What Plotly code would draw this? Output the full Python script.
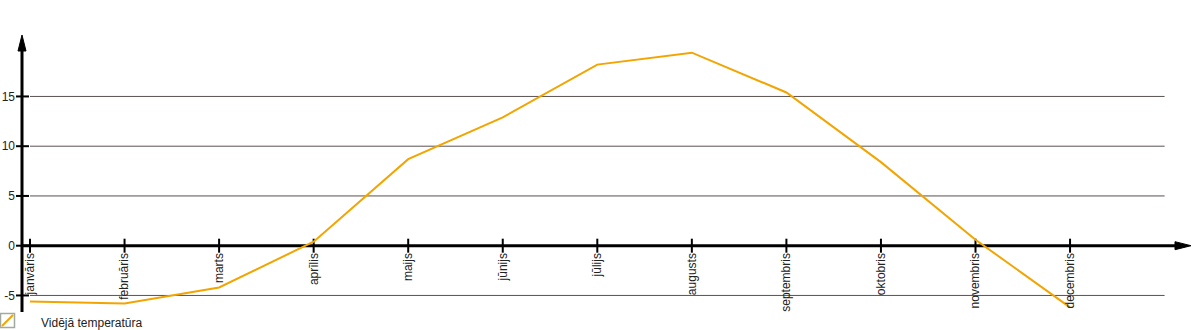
import plotly.graph_objects as go

# ---- data ----
months = ["janvāris", "februāris", "marts", "aprīlis", "maijs", "jūnijs",
          "jūlijs", "augusts", "septembris", "oktobris", "novembris", "decembris"]
temps = [-5.6, -5.8, -4.2, 0.4, 8.7, 12.9, 18.2, 19.4, 15.4, 8.4, 0.6, -6.2]
y_ticks = [-5, 0, 5, 10, 15]
y_tick_text = ["-5", "0", "5", "10", "15"]
grid_vals = [-5, 5, 10, 15]
series_name = "Vidējā temperatūra"

# ---- geometry / style ----
W, H = 1200, 330
ML = 16
X0PX, DX = 30.0, 94.55         # pixel of first month, spacing
Y0PX, DY = 245.7, 9.95         # pixel of value 0, px per unit
x_range = [(ML - X0PX) / DX, (W - X0PX) / DX]
y_range = [(Y0PX - H) / DY, Y0PX / DY]
yaxis_x = (22 - X0PX) / DX
xaxis_end = (1176 - X0PX) / DX
xaxis_tip = (1191 - X0PX) / DX
yaxis_bottom = (Y0PX - 312) / DY
yaxis_top = (Y0PX - 50) / DY
yaxis_tip = (Y0PX - 35) / DY

LINE_COLOR = "#F2A500"
GRID_COLOR = "#5a5050"
FONT = dict(family="Liberation Sans, Arial, sans-serif", size=12, color="#222222")

fig = go.Figure()

# tick marks crossing the axes
fig.add_trace(go.Scatter(
    x=[yaxis_x] * len(y_ticks), y=y_ticks, mode="markers",
    marker=dict(symbol="line-ew", size=10, line=dict(width=2, color="black")),
    hoverinfo="skip", showlegend=False))
fig.add_trace(go.Scatter(
    x=list(range(len(months))), y=[0] * len(months), mode="markers",
    marker=dict(symbol="line-ns", size=10, line=dict(width=2, color="black")),
    hoverinfo="skip", showlegend=False))

# data line
fig.add_trace(go.Scatter(
    x=list(range(len(months))), y=temps, mode="lines", name=series_name,
    line=dict(color=LINE_COLOR, width=2), showlegend=False))

shapes = []
for v in grid_vals:
    shapes.append(dict(type="line", xref="x", yref="y", x0=0, x1=len(months),
                       y0=v, y1=v, line=dict(color=GRID_COLOR, width=1), layer="below"))
# axes lines
shapes.append(dict(type="line", xref="x", yref="y", x0=yaxis_x, x1=xaxis_end, y0=0, y1=0,
                   line=dict(color="black", width=3), layer="below"))
shapes.append(dict(type="line", xref="x", yref="y", x0=yaxis_x, x1=yaxis_x,
                   y0=yaxis_bottom, y1=yaxis_top, line=dict(color="black", width=3), layer="below"))
# arrow heads
shapes.append(dict(type="path", xref="x", yref="y", xsizemode="pixel", ysizemode="pixel",
                   xanchor=xaxis_tip, yanchor=0, path="M0,0 L-16,4 L-16,-4 Z",
                   fillcolor="black", line=dict(color="black", width=1), layer="below"))
shapes.append(dict(type="path", xref="x", yref="y", xsizemode="pixel", ysizemode="pixel",
                   xanchor=yaxis_x, yanchor=yaxis_tip, path="M0,0 L-4,-16 L4,-16 Z",
                   fillcolor="black", line=dict(color="black", width=1), layer="below"))
# custom legend icon
shapes.append(dict(type="rect", xref="paper", yref="paper", xsizemode="pixel", ysizemode="pixel",
                   xanchor=0, yanchor=0, x0=-15.5, x1=-1.5, y0=2.5, y1=16.5,
                   line=dict(color="#a0aaa0", width=1.5), fillcolor="white"))
shapes.append(dict(type="line", xref="paper", yref="paper", xsizemode="pixel", ysizemode="pixel",
                   xanchor=0, yanchor=0, x0=-14, x1=-3, y0=4, y1=15,
                   line=dict(color=LINE_COLOR, width=2)))

annotations = [dict(text=series_name, xref="paper", yref="paper",
                    x=(39 - ML) / (W - ML), y=(H - 323) / H, xanchor="left", yanchor="middle",
                    showarrow=False, font=FONT)]

fig.update_layout(
    width=W, height=H, margin=dict(l=ML, r=0, t=0, b=0),
    paper_bgcolor="white", plot_bgcolor="white",
    font=FONT, showlegend=False,
    shapes=shapes, annotations=annotations,
    xaxis=dict(range=x_range, tickmode="array", tickvals=list(range(len(months))),
               ticktext=months, tickangle=-90, ticks="", showgrid=False, zeroline=False,
               showline=False, anchor="free", position=(H - Y0PX) / H,
               ticklabelstandoff=4, tickfont=FONT),
    yaxis=dict(range=y_range, tickmode="array", tickvals=y_ticks, ticktext=y_tick_text,
               ticks="", showgrid=False, zeroline=False, showline=False,
               ticklabelstandoff=0, tickfont=FONT),
)

fig.write_html("out.html")
